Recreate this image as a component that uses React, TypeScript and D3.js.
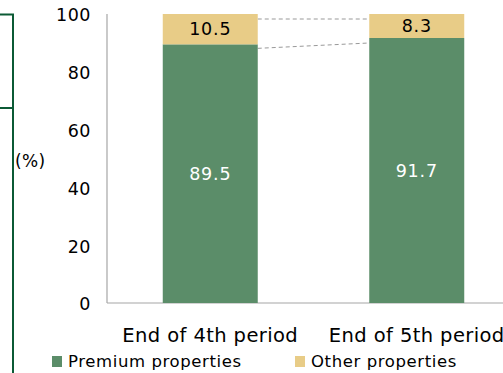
import React from "react";
import * as d3 from "d3";

const categories = ["End of 4th period", "End of 5th period"];
const premium = [89.5, 91.7];
const other = [10.5, 8.3];
const yTicks = [0, 20, 40, 60, 80, 100];
const seriesNames = ["Premium properties", "Other properties"];

const W = 503;
const H = 373;
const GREEN = "#5b8d69";
const YELLOW = "#e8cc87";
const FONT = "'DejaVu Sans', Verdana, sans-serif";

export default function App() {
  const y = d3.scaleLinear().domain([0, 100]).range([303, 14]);
  const x = d3
    .scaleBand<string>()
    .domain(categories)
    .range([107, 520])
    .paddingInner(0.54)
    .paddingOuter(0.27);
  const bw = x.bandwidth();
  const off = 5;

  return (
    <svg
      width={W}
      height={H}
      style={{ position: "absolute", left: 0, top: 0, background: "#fff" }}
      fontFamily={FONT}
    >
      {/* left decorative frame */}
      <path d="M0,14.5 H13 V373 M0,108 H13" fill="none" stroke="#0b5a35" strokeWidth={2} />
      {/* axes */}
      <line x1={107} x2={107} y1={14} y2={303} stroke="#a6a6a6" strokeWidth={1.2} />
      <line x1={107} x2={W} y1={303} y2={303} stroke="#a6a6a6" strokeWidth={1.2} />
      {yTicks.map((t) => (
        <text key={t} x={91} y={y(t) + 1} dy="0.36em" textAnchor="end" fontSize={17.5} letterSpacing={0.5} fill="#000">
          {t}
        </text>
      ))}
      <text x={15} y={161} dy="0.36em" fontSize={17} letterSpacing={0.3} fill="#000">(%)</text>
      {/* series lines */}
      {[premium, premium.map((p, i) => p + other[i])].map((s, k) => (
        <line
          key={k}
          x1={(x(categories[0]) as number) + bw}
          y1={y(s[0]) + off - (k === 0 ? 1 : 0)}
          x2={x(categories[1]) as number}
          y2={y(s[1]) + off}
          stroke="#999"
          strokeWidth={1}
          strokeDasharray="4,3"
        />
      ))}
      {categories.map((c, i) => {
        const x0 = x(c) as number;
        const top = premium[i] + other[i];
        return (
          <g key={c}>
            <rect x={x0} y={y(premium[i])} width={bw} height={y(0) - y(premium[i])} fill={GREEN} />
            <rect x={x0} y={y(top)} width={bw} height={y(premium[i]) - y(top)} fill={YELLOW} />
            <text
              x={x0 + bw / 2}
              y={(y(0) + y(premium[i])) / 2}
              dy="0.36em"
              textAnchor="middle"
              fontSize={17.5}
              letterSpacing={0.8}
              fill="#fff"
            >
              {premium[i].toFixed(1)}
            </text>
            <text
              x={x0 + bw / 2}
              y={(y(premium[i]) + y(top)) / 2}
              dy="0.36em"
              textAnchor="middle"
              fontSize={17.5}
              letterSpacing={0.8}
              fill="#000"
            >
              {other[i].toFixed(1)}
            </text>
            <text x={x0 + bw / 2} y={341.5} textAnchor="middle" fontSize={19.5} letterSpacing={0.4} fill="#000">
              {c}
            </text>
          </g>
        );
      })}
      {/* legend */}
      {seriesNames.map((n, i) => {
        const lx = i === 0 ? 52 : 295;
        return (
          <g key={n}>
            <rect x={lx} y={356} width={10} height={11} fill={i === 0 ? GREEN : YELLOW} />
            <text x={lx + 16} y={367} fontSize={16.5} letterSpacing={0.6} fill="#000">
              {n}
            </text>
          </g>
        );
      })}
    </svg>
  );
}
